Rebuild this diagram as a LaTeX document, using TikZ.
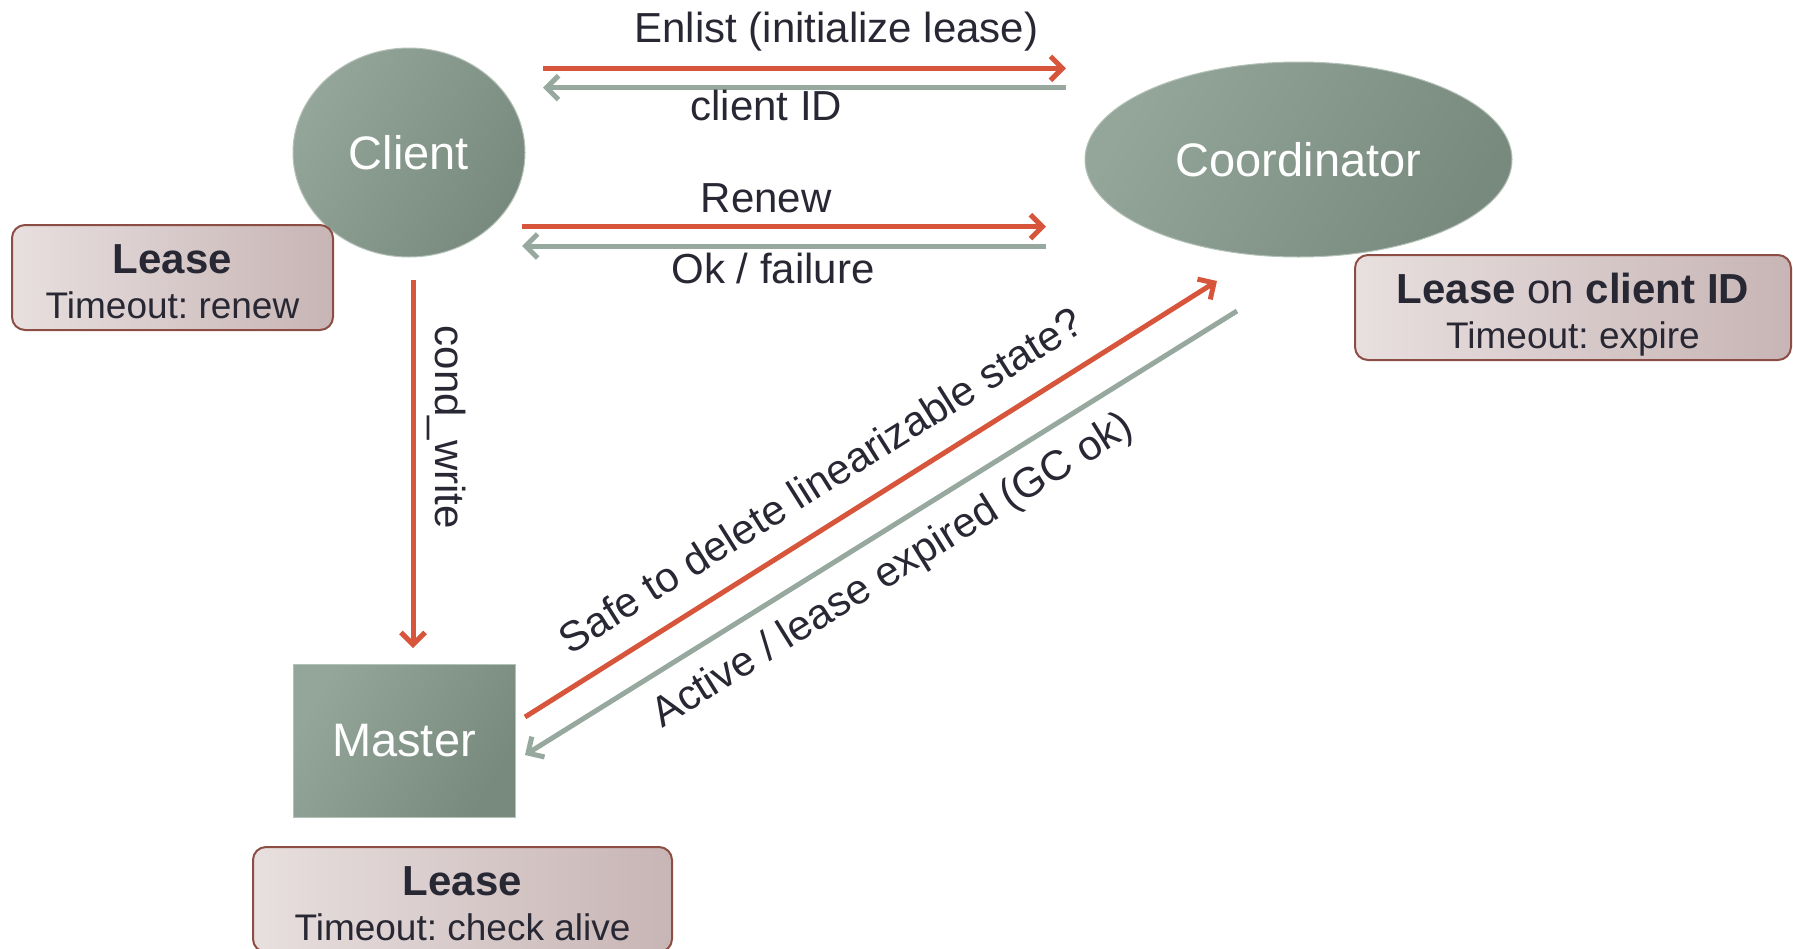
\documentclass[tikz,border=0pt]{standalone}
\usepackage{fontspec}
\setmainfont{Liberation Sans}
\usetikzlibrary{arrows.meta,shapes.geometric}
\frenchspacing

\definecolor{nodelight}{HTML}{94A699}
\definecolor{nodedark}{HTML}{78897D}
\definecolor{callred}{HTML}{D6553B}
\definecolor{replygray}{HTML}{97A99E}
\definecolor{labeltext}{HTML}{282834}
\definecolor{leaselight}{HTML}{E8DFDF}
\definecolor{leasedark}{HTML}{C8B5B5}
\definecolor{leaseedge}{HTML}{8C4E44}

\begin{document}
\begin{tikzpicture} [x = 1pt, y = -1pt,
	party/.style = {left color = nodelight, right color = nodedark, shading angle = 60, draw = nodelight!70!white, line width = 1pt, text = white, inner sep = 0pt, font = \fontsize{47}{56}\selectfont},
	lease/.style = {rectangle, rounded corners = 13pt, left color = leaselight, right color = leasedark, draw = leaseedge, line width = 2pt, text = labeltext, align = center, inner sep = 0pt, font = \fontsize{37}{45}\selectfont},
	call/.style = {draw = callred, line width = 5pt, -{Straight Barb[length = 12pt, width = 24pt]}},
	reply/.style = {draw = replygray, line width = 5pt, -{Straight Barb[length = 12pt, width = 24pt]}},
	msg/.style = {text = labeltext, inner sep = 0pt, anchor = base, font = \fontsize{42}{50}\selectfont}]
	\useasboundingbox (0,0) rectangle (1793,948);
	\clip (0,0) rectangle (1793,948);

	% the three parties
	\node [party, ellipse, minimum width = 232pt, minimum height = 209pt] (client) at (409,152.5) {Client};
	\node [party, ellipse, minimum width = 427pt, minimum height = 195pt] (coord) at (1298.5,159.5) {Coordinator};
	\node [party, rectangle, minimum width = 222pt, minimum height = 153pt] (master) at (404,740.5) {Master};

	% leases (struts keep both lines at the same place in every box)
	\node [lease, minimum width = 321pt, minimum height = 105pt] (clientlease) at (172.5,277.5) {\rule{0pt}{48pt}{\fontsize{42}{45}\selectfont\bfseries Lease}\\Timeout: renew\rule[-12pt]{0pt}{12pt}};
	\node [lease, minimum width = 436pt, minimum height = 105pt] (coordlease) at (1573,307.5) {\rule{0pt}{48pt}{\fontsize{42}{45}\selectfont\textbf{Lease} on \textbf{client ID}}\\Timeout: expire\rule[-12pt]{0pt}{12pt}};
	\node [lease, minimum width = 419pt, minimum height = 105pt] (masterlease) at (462.5,899.5) {\rule{0pt}{48pt}{\fontsize{42}{45}\selectfont\bfseries Lease}\\Timeout: check alive\rule[-12pt]{0pt}{12pt}};

	% arrow ends
	\coordinate (enlistA) at (543,68.3);
	\coordinate (enlistB) at (1066,68.3);
	\coordinate (idA) at (1066,87.7);
	\coordinate (idB) at (543,87.7);
	\coordinate (renewA) at (522,226.7);
	\coordinate (renewB) at (1046,226.7);
	\coordinate (okA) at (1046,246);
	\coordinate (okB) at (522,246);
	\coordinate (condA) at (413,280);
	\coordinate (condB) at (413,648);
	\coordinate (safeA) at (525,717);
	\coordinate (safeB) at (1217,281);
	\coordinate (activeA) at (1237,311);
	\coordinate (activeB) at (525,755);

	% messages
	\draw [call] (enlistA) -- node [msg, pos = 0.561, yshift = 25.6pt] {Enlist (initialize lease)} (enlistB);
	\draw [reply] (idA) -- node [msg, pos = 0.573, yshift = -32.3pt] {client ID} (idB);
	\draw [call] (renewA) -- node [msg, pos = 0.466, yshift = 14pt] {Renew} (renewB);
	\draw [reply] (okA) -- node [msg, pos = 0.521, yshift = -37pt] {Ok / failure} (okB);
	\draw [call] (condA) -- node [msg, pos = 0.40, xshift = 22pt, rotate = -90] {cond\_write} (condB);
	\draw [call] (safeA) -- node [msg, sloped, pos = 0.46, yshift = 28pt] {Safe to delete linearizable state?} (safeB);
	\draw [reply] (activeA) -- node [msg, sloped, pos = 0.512, yshift = -50pt] {Active / lease expired (GC ok)} (activeB);
\end{tikzpicture}
\end{document}
